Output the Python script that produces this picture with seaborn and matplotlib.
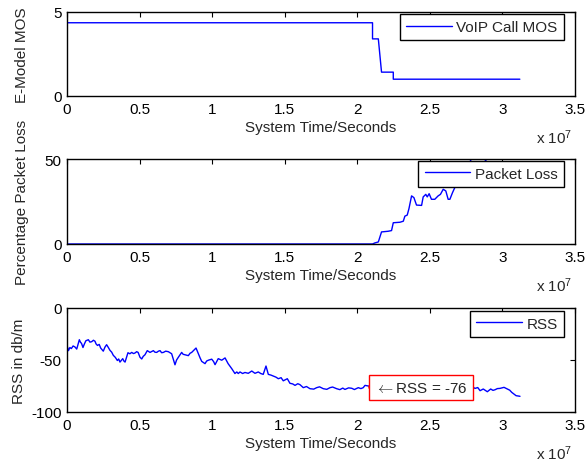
import matplotlib
matplotlib.use("Agg")
import numpy as np
import pandas as pd
import seaborn as sns
import matplotlib.pyplot as plt
from matplotlib.ticker import FuncFormatter, MultipleLocator

# ---------------- data (time in units of 1e7 seconds) ----------------
mos_t = [0.0, 2.105, 2.105, 2.145, 2.167, 2.248, 2.248, 3.12]
mos_v = [4.36, 4.36, 3.4, 3.4, 1.42, 1.42, 1.0, 1.0]

loss_t = [0.0, 2.105, 2.12, 2.145, 2.167, 2.213, 2.236, 2.248, 2.294, 2.317,
          2.328, 2.344, 2.356, 2.374, 2.39, 2.408, 2.443, 2.454, 2.472, 2.482,
          2.495, 2.511, 2.534, 2.557, 2.573, 2.592, 2.61, 2.626, 2.638, 2.656,
          2.672, 2.70, 2.74, 2.79, 2.83, 2.88, 2.92, 2.98, 3.05, 3.12]
loss_v = [0.0, 0.0, 0.6, 1.2, 7.1, 7.5, 7.9, 12.5, 12.8, 13.4,
          16.4, 17.0, 20.8, 28.3, 27.3, 22.9, 22.7, 27.7, 29.2, 27.7,
          29.6, 26.3, 26.3, 28.3, 29.2, 32.2, 31.2, 26.3, 26.3, 30.2,
          33.2, 37.0, 43.0, 50.5, 54.0, 49.5, 46.0, 44.0, 45.0, 47.0]

rss_t = [0.000, 0.010, 0.020, 0.030, 0.042, 0.055, 0.067, 0.076, 0.085, 0.093,
         0.100, 0.110, 0.120, 0.130, 0.147, 0.158, 0.170, 0.182, 0.193, 0.200,
         0.210, 0.222, 0.232, 0.250, 0.262, 0.273, 0.285, 0.296, 0.308, 0.319,
         0.333, 0.347, 0.356, 0.365, 0.384, 0.392, 0.400, 0.420, 0.433, 0.446,
         0.458, 0.468, 0.480, 0.490, 0.503, 0.515, 0.525, 0.537, 0.553, 0.572,
         0.584, 0.595, 0.606, 0.618, 0.630, 0.641, 0.652, 0.664, 0.680, 0.698,
         0.710, 0.721, 0.744, 0.755, 0.767, 0.790, 0.800, 0.813, 0.836, 0.848,
         0.859, 0.875, 0.889, 0.905, 0.917, 0.928, 0.951, 0.962, 0.974, 0.997,
         1.010, 1.020, 1.042, 1.055, 1.066, 1.089, 1.100, 1.110, 1.135, 1.157,
         1.170, 1.180, 1.192, 1.210, 1.226, 1.249, 1.273, 1.295, 1.318, 1.335,
         1.352, 1.371, 1.387, 1.405, 1.421, 1.440, 1.456, 1.475, 1.490, 1.518,
         1.536, 1.555, 1.571, 1.590, 1.605, 1.628, 1.650, 1.674, 1.700, 1.720,
         1.740, 1.766, 1.790, 1.812, 1.830, 1.858, 1.880, 1.900, 1.915, 1.940,
         1.962, 1.980, 2.007, 2.025, 2.041, 2.053, 2.076, 2.100, 2.200, 2.300,
         2.400, 2.500, 2.600, 2.700, 2.765, 2.788, 2.811, 2.830, 2.846, 2.868,
         2.896, 2.919, 2.935, 2.949, 2.965, 2.983, 3.011, 3.034, 3.050, 3.064,
         3.080, 3.094, 3.121]
rss_v = [-36.0, -41.0, -38.0, -39.0, -36.5, -37.5, -39.5, -35.0, -30.5, -33.0,
         -34.0, -38.0, -34.5, -31.5, -30.5, -32.8, -32.4, -31.0, -32.0, -34.5,
         -36.0, -35.0, -38.5, -41.5, -37.5, -35.3, -38.0, -40.7, -42.5, -45.5,
         -47.5, -50.5, -49.0, -52.0, -48.7, -51.0, -52.0, -43.0, -44.0, -42.7,
         -43.8, -43.3, -42.0, -42.7, -47.4, -49.0, -46.5, -45.0, -41.0, -42.7,
         -41.8, -41.0, -42.5, -42.7, -41.5, -41.0, -43.0, -42.7, -41.5, -42.0,
         -43.0, -44.0, -54.6, -50.0, -47.4, -42.7, -44.5, -45.0, -45.8, -43.5,
         -42.7, -40.5, -38.5, -44.0, -48.0, -51.3, -53.5, -51.0, -50.2, -49.2,
         -51.5, -54.5, -48.7, -49.5, -50.2, -48.0, -51.0, -53.5, -58.3, -63.0,
         -61.5, -63.0, -61.5, -63.0, -62.0, -62.8, -60.6, -62.8, -61.5, -63.0,
         -63.8, -55.8, -63.8, -64.5, -65.4, -66.5, -68.0, -67.0, -70.0, -68.0,
         -72.4, -73.0, -74.4, -72.8, -73.7, -76.6, -75.5, -77.6, -78.0, -76.6,
         -75.8, -77.6, -78.2, -76.6, -76.0, -77.6, -78.5, -77.0, -78.3, -76.8,
         -77.2, -78.4, -76.6, -77.5, -76.6, -74.4, -75.0, -76.0, -77.0, -76.0,
         -77.0, -76.0, -77.0, -76.0, -76.3, -75.4, -77.3, -76.5, -79.5, -77.9,
         -80.5, -77.9, -79.2, -78.6, -77.5, -77.3, -76.3, -77.9, -79.0, -81.1,
         -82.8, -84.3, -84.9]

tip_t = 2.1
tip_v = -76
tip_label = r"$\leftarrow$RSS = -76"

x_label = "System Time/Seconds"
series_names = ["VoIP Call MOS", "Packet Loss", "RSS"]
y_labels = ["E-Model MOS", "Percentage Packet Loss", "RSS in db/m"]

# ---------------- style ----------------
sns.set_style("white")
plt.rcParams["font.family"] = ["Liberation Sans", "DejaVu Sans"]
plt.rcParams["font.size"] = 11
plt.rcParams["axes.unicode_minus"] = False
plt.rcParams["mathtext.fontset"] = "custom"
plt.rcParams["mathtext.rm"] = "Liberation Sans"
plt.rcParams["mathtext.it"] = "Liberation Sans:italic"

W, H = 588, 464
fig = plt.figure(figsize=(W / 100, H / 100), dpi=100)
fig.patch.set_facecolor("white")

ax1 = fig.add_axes([67 / W, 1 - 97 / H, 508 / W, 84 / H])
ax2 = fig.add_axes([67 / W, 1 - 245 / H, 508 / W, 85 / H])
ax3 = fig.add_axes([67 / W, 1 - 413 / H, 508 / W, 104 / H])

frames = [
    pd.DataFrame({"t": np.array(mos_t) * 1e7, "v": mos_v}),
    pd.DataFrame({"t": np.array(loss_t) * 1e7, "v": loss_v}),
    pd.DataFrame({"t": np.array(rss_t) * 1e7, "v": rss_v}),
]
ylims = [(0, 5), (0, 50), (-100, 0)]
yticks = [[0, 5], [0, 50], [-100, -50, 0]]
legend_tops = [0.973, 0.980, 0.974]
label_x = [-0.075, -0.075, -0.080]

for ax, df, name, yl, ylim, yt, ltop, lx in zip(
        [ax1, ax2, ax3], frames, series_names, y_labels, ylims, yticks,
        legend_tops, label_x):
    sns.lineplot(data=df, x="t", y="v", ax=ax, color="#0000ff", linewidth=1.0,
                 estimator=None, sort=False, label=name)
    ax.set_xlim(0, 3.5e7)
    ax.set_ylim(*ylim)
    ax.set_yticks(yt)
    ax.xaxis.set_major_locator(MultipleLocator(0.5e7))
    ax.xaxis.set_major_formatter(FuncFormatter(lambda v, p: f"{v / 1e7:g}"))
    ax.tick_params(direction="in", length=3.5, width=0.8, top=True, right=True,
                   labelsize=11, colors="black", pad=4)
    for s in ax.spines.values():
        s.set_color("black")
        s.set_linewidth(1.0)
        s.set_visible(True)
    ax.set_xlabel(x_label, fontsize=11, labelpad=3)
    ax.set_ylabel(yl, fontsize=11)
    ax.yaxis.set_label_coords(lx, 0.5)
    leg = ax.legend(loc="upper right", bbox_to_anchor=(0.978, ltop),
                    borderaxespad=0, frameon=True, fancybox=False,
                    edgecolor="black", framealpha=1, handlelength=3.0,
                    handletextpad=0.3, borderpad=0.4, fontsize=11)
    leg.get_frame().set_linewidth(1.0)
    ax.annotate("x 10$^{7}$", xy=(1, 0), xycoords="axes fraction",
                xytext=(-2, -29.5), textcoords="offset points",
                ha="right", va="center", fontsize=11)

# data tip on RSS panel
sns.scatterplot(x=[tip_t * 1e7], y=[tip_v], ax=ax3, marker="o", s=18,
                facecolor="none", edgecolor="red", linewidth=0.8, zorder=4,
                legend=False)
ax3.text(2.12e7, -76.6, tip_label, ha="left", va="center", fontsize=11,
         zorder=6, math_fontfamily="cm",
         bbox=dict(boxstyle="square,pad=0.35", fc="white", ec="red", lw=1.0))

fig.savefig("out.png", dpi=100, facecolor="white")
